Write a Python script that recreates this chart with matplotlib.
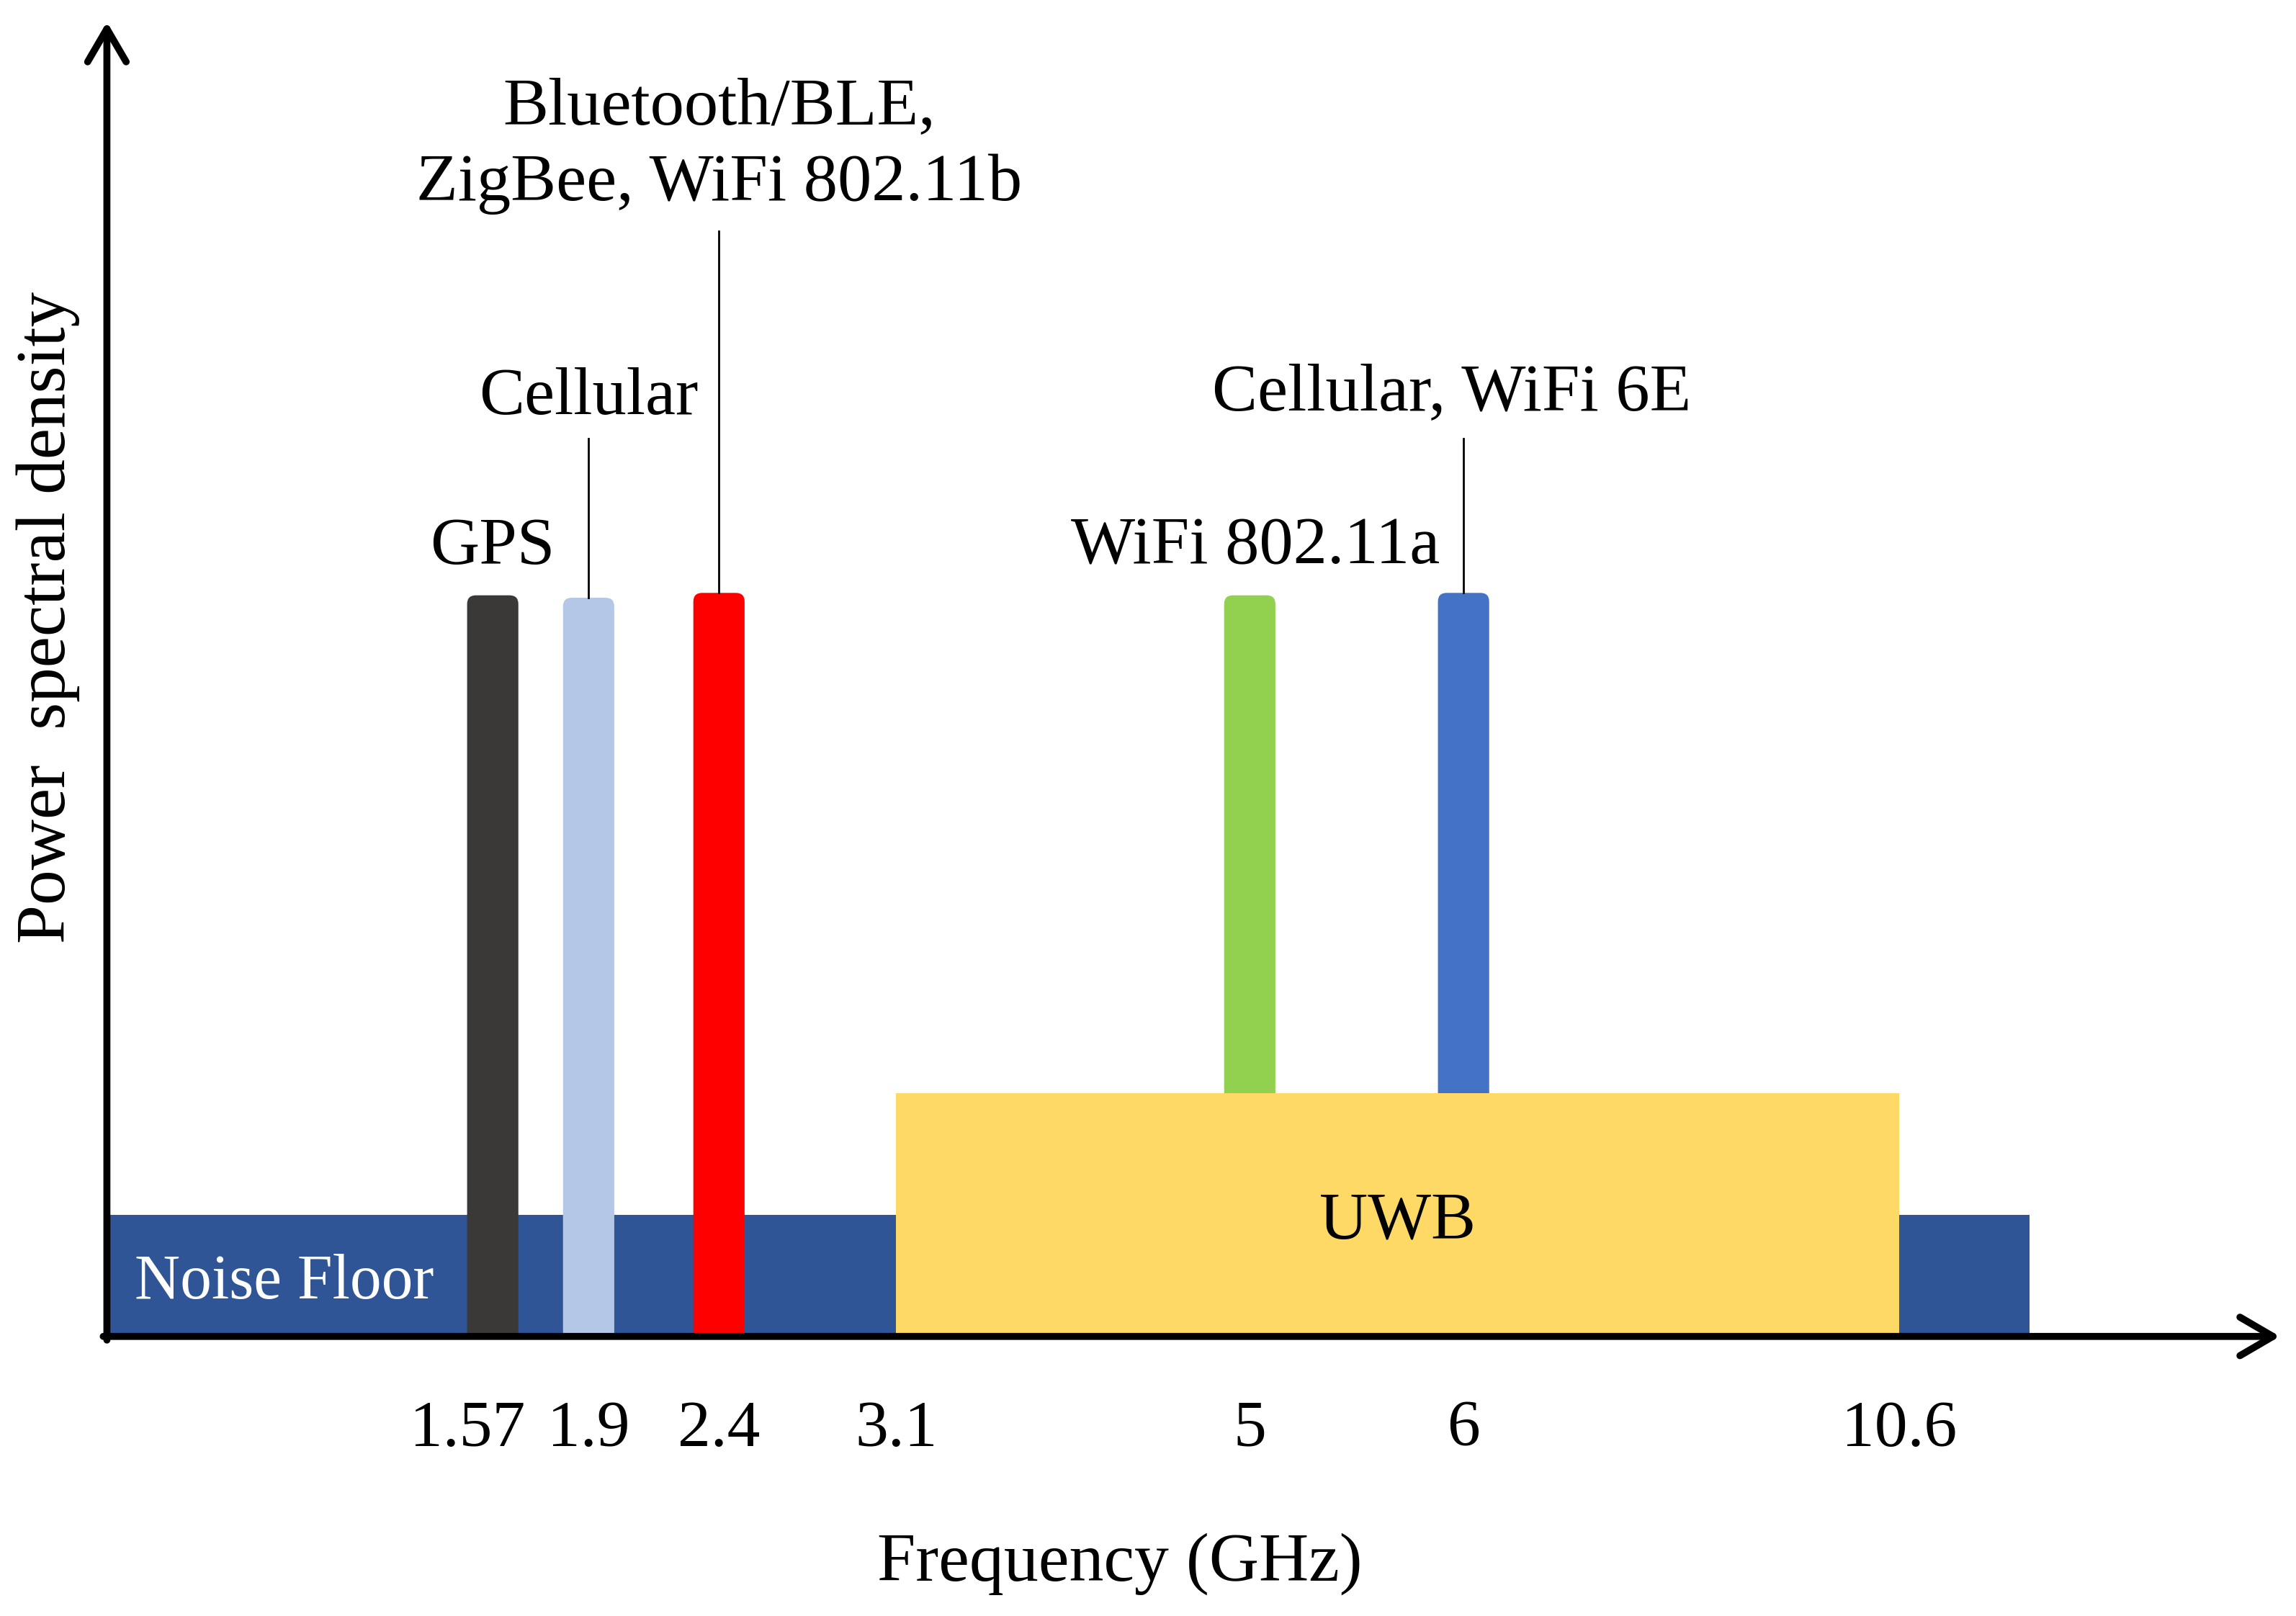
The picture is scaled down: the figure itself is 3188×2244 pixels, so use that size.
import numpy as np
import matplotlib
matplotlib.use('Agg')
import matplotlib.pyplot as plt
from matplotlib.patches import FancyBboxPatch, Rectangle, FancyArrowPatch

plt.rcParams['font.family'] = ['Liberation Serif', 'DejaVu Serif']

# narrowband systems
band_names = ['GPS', 'Cellular', 'Bluetooth/BLE,\nZigBee, WiFi 802.11b',
              'WiFi 802.11a', 'Cellular, WiFi 6E']
band_freq = [1.57, 1.9, 2.4, 5, 6]
band_psd = [6.1, 6.08, 6.12, 6.1, 6.12]
band_colors = ['#3b3838', '#b4c7e7', '#ff0000', '#92d050', '#4472c4']
label_top = [None, 7.39, 9.10, None, 7.39]   # leader line top (None = no leader)
label_base = [6.36, 7.59, 9.98, 6.36, 7.63]  # baseline of (first) label line
label_dx = [0, 0, 0, 4, -8]

# UWB band and noise floor
uwb_lo, uwb_hi = 3.1, 10.6
uwb_psd = 2.0
noise_psd = 1.0
noise_end = 11.5

tick_freqs = [1.57, 1.9, 2.4, 3.1, 5, 6, 10.6]
tick_labels = ['1.57', '1.9', '2.4', '3.1', '5', '6', '10.6']

# schematic (non-linear) frequency axis
freq_knots = [0, 1.57, 1.9, 2.4, 3.1, 5, 6, 10.6, 11.5, 13.0]
pos_knots = [0, 263.5, 329, 418, 539, 780.5, 926.5, 1224, 1313, 1484]


def fwd(f):
    return np.interp(f, freq_knots, pos_knots)


fig = plt.figure(figsize=(31.88, 22.44), dpi=100)
ax = fig.add_axes([0, 0, 1, 1])
ax.set_xlim(-73, 1495)
ax.set_ylim(-191 / 83, 913 / 83)
ax.axis('off')

bar_w = 35
# noise floor
ax.add_patch(Rectangle((0, 0), fwd(noise_end), noise_psd, color='#2f5597', lw=0, zorder=1))
ax.text(19, 0.31, 'Noise Floor', color='white', fontsize=63, ha='left', va='baseline', zorder=6)

# narrowband bars (rounded top, flat bottom at the axis)
for f, h, c in zip(band_freq, band_psd, band_colors):
    x = fwd(f)
    bar = FancyBboxPatch((x - bar_w / 2, -0.3), bar_w, h + 0.3,
                         boxstyle='round,pad=0,rounding_size=6',
                         mutation_aspect=1 / 83, fc=c, ec='none', zorder=2)
    ax.add_patch(bar)
    clip = Rectangle((-73, 0), 1600, 12, transform=ax.transData)
    bar.set_clip_path(clip)

# UWB
ax.add_patch(Rectangle((fwd(uwb_lo), 0), fwd(uwb_hi) - fwd(uwb_lo), uwb_psd,
                       color='#ffd966', lw=0, zorder=3))
ax.text((fwd(uwb_lo) + fwd(uwb_hi)) / 2, 0.81, 'UWB', fontsize=67,
        ha='center', va='baseline', zorder=6)

# labels + leader lines
for name, f, h, top, base, dx in zip(band_names, band_freq, band_psd,
                                     label_top, label_base, label_dx):
    x = fwd(f)
    if top is not None:
        ax.plot([x, x], [h, top], color='black', lw=2, zorder=4)
    for i, ln in enumerate(name.split('\n')):
        ax.text(x + dx, base - i * 52 / 83, ln, fontsize=68, ha='center', va='baseline')

# tick labels
for f, lab in zip(tick_freqs, tick_labels):
    nudge = -17 if lab == '1.57' else 0
    ax.text(fwd(f) + nudge, -0.90, lab, fontsize=66, ha='center', va='baseline')

ax.text(fwd(4.3), -2.01, 'Frequency (GHz)', fontsize=69, ha='center', va='baseline')
ax.text(-40, 5.92, 'Power  spectral density', fontsize=70, rotation=90,
        ha='center', va='center')

# axes arrows
arrow_kw = dict(arrowstyle='->,head_length=0.6,head_width=0.35', mutation_scale=55,
                lw=7, color='black', shrinkA=0, shrinkB=0, capstyle='round',
                joinstyle='round', zorder=5)
ax.add_patch(FancyArrowPatch((-2.5, 0), (1484, 0), **arrow_kw))
ax.add_patch(FancyArrowPatch((0, -0.03), (0, 10.82), **arrow_kw))

fig.savefig('out.png', dpi=100, facecolor='white')
